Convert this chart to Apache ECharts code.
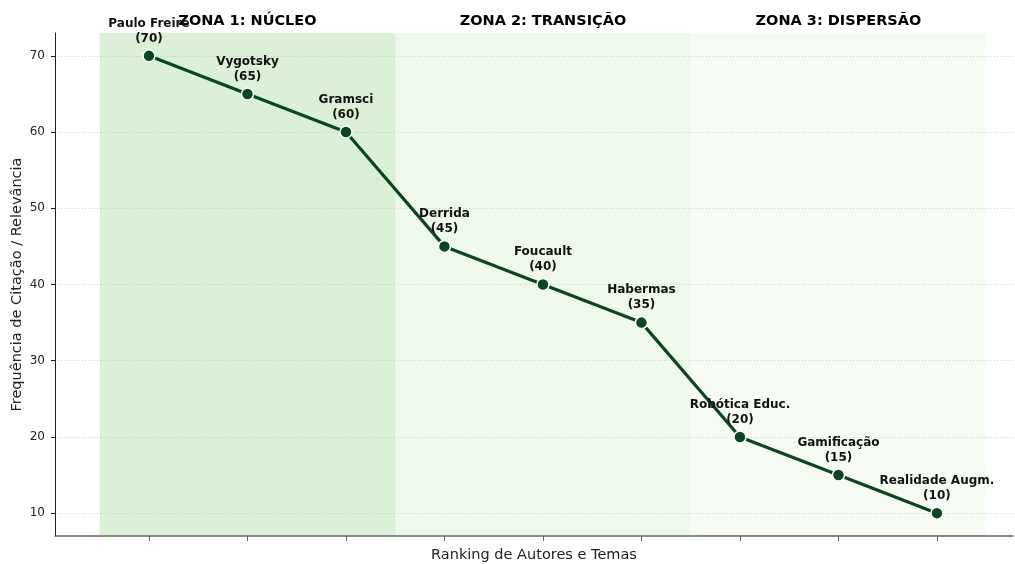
<!DOCTYPE html>
<html><head><meta charset="utf-8">
<script src="https://cdn.jsdelivr.net/npm/echarts@6/dist/echarts.min.js"></script>
<style>html,body{margin:0;padding:0;background:#fff}#c{width:1015px;height:564px}</style>
</head><body><div id="c"></div>
<script>
const names = ['Paulo Freire','Vygotsky','Gramsci','Derrida','Foucault','Habermas','Robótica Educ.','Gamificação','Realidade Augm.'];
const values = [70,65,60,45,40,35,20,15,10];
const zoneTitles = ['ZONA 1: NÚCLEO','ZONA 2: TRANSIÇÃO','ZONA 3: DISPERSÃO'];
const zoneBounds = [[-0.5,2.5],[2.5,5.5],[5.5,8.5]];
const zoneColors = ['rgba(80,175,55,0.2)','rgba(85,185,55,0.1)','rgba(75,175,35,0.05)'];
const yTicks = [10,20,30,40,50,60,70];
const xTicks = names.map((n,i)=>i);

const font = 'DejaVu Sans';
const chart = echarts.init(document.getElementById('c'), null, {renderer:'canvas'});
chart.setOption({
  animation:false,
  textStyle:{fontFamily:font},
  grid:{left:55,right:2,top:33,bottom:28,containLabel:false,outerBoundsMode:'none'},
  xAxis:{
    type:'value', min:-0.954, max:8.772,
    name:'Ranking de Autores e Temas', nameLocation:'middle', nameGap:12, nameMoveOverlap:false,
    nameTextStyle:{fontSize:14.5,color:'#222',fontFamily:font},
    axisLine:{show:true,onZero:false,lineStyle:{color:'#666',width:1.5}},
    axisTick:{show:true,customValues:xTicks,length:5,lineStyle:{color:'#666'}},
    axisLabel:{show:false},
    splitLine:{show:false}
  },
  yAxis:{
    type:'value', min:7, max:73,
    name:'Frequência de Citação / Relevância', nameLocation:'middle', nameGap:30, nameMoveOverlap:false,
    nameTextStyle:{fontSize:14.5,color:'#222',fontFamily:font},
    axisLine:{show:true,onZero:false,lineStyle:{color:'#222',width:1}},
    axisTick:{show:true,customValues:yTicks,length:4,lineStyle:{color:'#222'}},
    axisLabel:{customValues:yTicks,fontSize:12,color:'#222',fontFamily:font,margin:10},
    splitLine:{show:true,lineStyle:{color:'#c8c8c8',type:[1,2],width:0.8}}
  },
  series:[{
    type:'line',
    data:values.map((v,i)=>({name:names[i],value:[i,v]})),
    lineStyle:{color:'#084820',width:3.2},
    itemStyle:{color:'#084820',borderColor:'#fff',borderWidth:1.5},
    symbol:'circle', symbolSize:12,
    label:{show:true,position:'top',distance:3,
      formatter:p=>p.name+'\n('+p.value[1]+')',
      fontSize:12,fontWeight:'bold',color:'#111',lineHeight:15,fontFamily:font},
    markArea:{
      silent:true,
      data:zoneBounds.map((b,k)=>[
        {xAxis:b[0],name:zoneTitles[k],itemStyle:{color:zoneColors[k]}},
        {xAxis:b[1]}
      ]),
      label:{show:true,position:'top',distance:4,fontSize:14.5,fontWeight:'bold',color:'#000',fontFamily:font}
    },
    z:3
  }]
});
</script></body></html>
